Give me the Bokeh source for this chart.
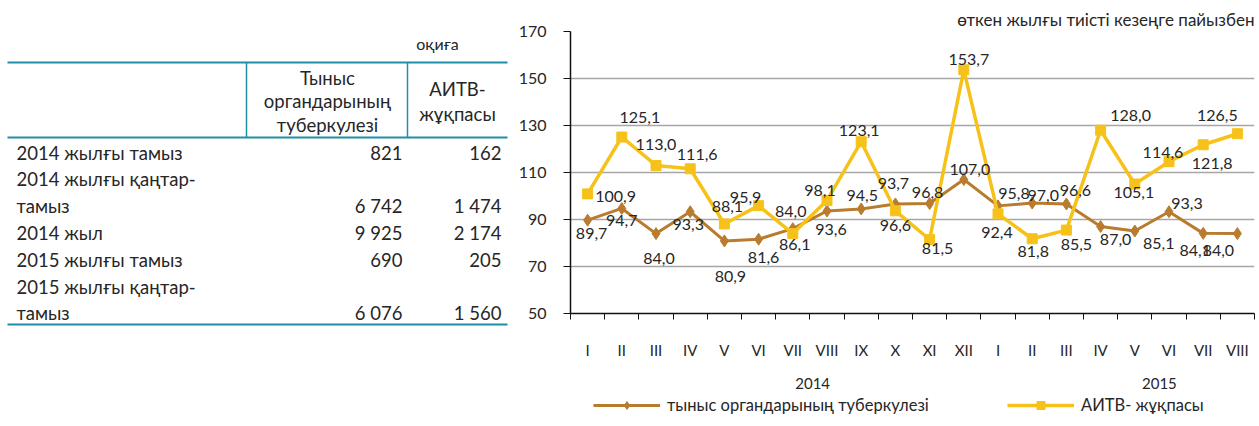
from bokeh.plotting import figure
from bokeh.models import (Range1d, FixedTicker, Legend, LegendItem, ColumnDataSource,
                          LinearAxis)
from bokeh.layouts import row, column
from bokeh.embed import file_html
from bokeh.resources import INLINE
from bokeh.core.properties import value

# ---------------- data ----------------
months = ["I", "II", "III", "IV", "V", "VI", "VII", "VIII", "IX", "X", "XI", "XII",
          "I", "II", "III", "IV", "V", "VI", "VII", "VIII"]
years = ["2014", "2015"]
tb = [89.7, 94.7, 84.0, 93.3, 80.9, 81.6, 86.1, 93.6, 94.5, 96.6, 96.8, 107.0,
      95.8, 97.0, 96.6, 87.0, 85.1, 93.3, 84.1, 84.0]
hiv = [100.9, 125.1, 113.0, 111.6, 88.1, 95.9, 84.0, 98.1, 123.1, 93.7, 81.5, 153.7,
       92.4, 81.8, 85.5, 128.0, 105.1, 114.6, 121.8, 126.5]
series_names = ["тыныс органдарының туберкулезі", "АИТВ- жұқпасы"]
chart_title = "өткен жылғы тиісті кезеңге пайызбен"
y_ticks = [50, 70, 90, 110, 130, 150, 170]

table_unit = "оқиға"
col_head_tb = ["Тыныс", "органдарының", "туберкулезі"]
col_head_hiv = ["АИТВ-", "жұқпасы"]
row_labels = [["2014 жылғы тамыз"], ["2014 жылғы қаңтар-", "тамыз"], ["2014 жыл"],
              ["2015 жылғы тамыз"], ["2015 жылғы қаңтар-", "тамыз"]]
tb_counts = [821, 6742, 9925, 690, 6076]
hiv_counts = [162, 1474, 2174, 205, 1560]

# ---------------- styles / positions ----------------
FONT = "Lato"
TXT = "#262626"
TEAL = "#1F8FA8"
BROWN = "#B97B2E"
YELLOW = "#F6C21A"
year_label_pos = [7.08, 17.22]
legend_pos = [(80, 11), (494, 11)]

# offsets (px) of the data labels relative to their points
tb_dx = [4, 0, 3, -2, 6, 5, 2, 4, 1, 0, -2, 6, 16, 11, 9, 15, 24, 18, -8, -19]
tb_dy = [13, 12, 25, 13, 36, 18, 16, 18, -13, 22, -11, -10, -12, -8, -13, 13, 12, -8, 17, 17]
hiv_dx = [28, 18, 0, 7, 3, -13, -2, -7, -2, -2, 8, 5, -1, 1, 10, 30, -1, -6, 9, -20]
hiv_dy = [3, -20, -21, -14, -17, -8, -22, -10, -11, -27, 9, -10, 19, 13, 14, -15, 8, -9, 19, -18]


def fmt_count(v):
    return f"{v:,}".replace(",", " ")


def fmt_pct(v):
    return f"{v:.1f}".replace(".", ",")


# ---------------- table (left) ----------------
t = figure(width=513, height=426, x_range=Range1d(0, 513), y_range=Range1d(426, 0),
           output_backend="svg", toolbar_location=None,
           x_axis_location=None, y_axis_location=None,
           min_border=0, min_border_left=0, min_border_right=0,
           min_border_top=0, min_border_bottom=0)
t.outline_line_color = None
t.grid.visible = False
t.frame_align = False

tkw = dict(text_font=value(FONT), text_color=TXT, text_baseline="middle")
FS = "18.5px"

t.text(x=[437], y=[43], text=[table_unit], text_align="center", text_font_size="16px", **tkw)
t.segment(x0=[7, 7, 7], y0=[62, 137, 324], x1=[507, 507, 507], y1=[62, 137, 324],
          line_color=TEAL, line_width=2)
t.segment(x0=[246, 407], y0=[62, 62], x1=[246, 407], y1=[137, 137],
          line_color=TEAL, line_width=1.5)
t.text(x=[327] * len(col_head_tb), y=[77 + 23.5 * i for i in range(len(col_head_tb))],
       text=col_head_tb, text_align="center", text_font_size=FS, **tkw)
t.text(x=[457] * len(col_head_hiv), y=[88 + 25 * i for i in range(len(col_head_hiv))],
       text=col_head_hiv, text_align="center", text_font_size=FS, **tkw)
lx, ly, vx1, vx2, vy = [], [], [], [], []
k = 0
for lines, a, b in zip(row_labels, tb_counts, hiv_counts):
    for ln in lines:
        lx.append(ln)
        ly.append(152 + 26.8 * k)
        k += 1
    vy.append(152 + 26.8 * (k - 1))
    vx1.append(fmt_count(a))
    vx2.append(fmt_count(b))
t.text(x=[16] * len(lx), y=ly, text=lx, text_align="left", text_font_size=FS, **tkw)
t.text(x=[402] * len(vx1), y=vy, text=vx1, text_align="right", text_font_size=FS, **tkw)
t.text(x=[501] * len(vx2), y=vy, text=vx2, text_align="right", text_font_size=FS, **tkw)

# ---------------- chart (right) ----------------
xs = [i + 0.5 for i in range(len(months))]
src = ColumnDataSource(dict(
    x=xs, tb=tb, hiv=hiv,
    tb_lab=[fmt_pct(v) for v in tb], hiv_lab=[fmt_pct(v) for v in hiv],
    tb_dx=tb_dx, tb_dy=tb_dy, hiv_dx=hiv_dx, hiv_dy=hiv_dy))

p = figure(width=746, height=394, x_range=Range1d(0, len(months)),
           y_range=Range1d(y_ticks[0], y_ticks[-1]), title=chart_title,
           output_backend="svg", toolbar_location=None,
           min_border_left=57, min_border_right=5, min_border_top=31, min_border_bottom=81)
p.frame_align = False
p.outline_line_color = None
p.title.align = "right"
p.title.text_font = FONT
p.title.text_font_size = "17px"
p.title.text_font_style = "normal"
p.title.text_color = TXT
p.title.standoff = 4

p.xgrid.visible = False
p.ygrid.ticker = FixedTicker(ticks=y_ticks[1:])
p.ygrid.grid_line_color = "#A6A6A6"
p.ygrid.grid_line_width = 1.5

p.yaxis.ticker = FixedTicker(ticks=y_ticks)
p.yaxis.axis_line_color = "#111111"
p.yaxis.axis_line_width = 1.5
p.yaxis.major_tick_line_color = "#111111"
p.yaxis.major_tick_out = 7
p.yaxis.major_tick_in = 0
p.yaxis.minor_tick_line_color = None
p.yaxis.major_label_standoff = 17
p.yaxis.major_label_text_font = FONT
p.yaxis.major_label_text_font_size = "16px"
p.yaxis.major_label_text_color = TXT

p.xaxis.ticker = FixedTicker(ticks=xs, minor_ticks=list(range(len(months) + 1)))
p.xaxis.major_label_overrides = {x: m for x, m in zip(xs, months)}
p.xaxis.axis_line_color = "#111111"
p.xaxis.axis_line_width = 1.5
p.xaxis.major_tick_out = 0
p.xaxis.major_tick_in = 0
p.xaxis.minor_tick_line_color = "#111111"
p.xaxis.minor_tick_out = 6
p.xaxis.minor_tick_in = 0
p.xaxis.major_label_standoff = 21
p.xaxis.major_label_text_font = FONT
p.xaxis.major_label_text_font_size = "15px"
p.xaxis.major_label_text_color = TXT

year_axis = LinearAxis(ticker=FixedTicker(ticks=year_label_pos),
                       major_label_overrides={x: y for x, y in zip(year_label_pos, years)},
                       axis_line_color=None, major_tick_line_color=None,
                       minor_tick_line_color=None, major_tick_out=0, major_tick_in=0,
                       major_label_standoff=16,
                       major_label_text_font=FONT, major_label_text_font_size="15px",
                       major_label_text_color=TXT)
p.add_layout(year_axis, "below")

p.line("x", "tb", source=src, line_color=BROWN, line_width=3)
p.scatter("x", "tb", source=src, marker="diamond", size=12, color=BROWN)
p.line("x", "hiv", source=src, line_color=YELLOW, line_width=3.5)
p.scatter("x", "hiv", source=src, marker="square", size=10, color=YELLOW)

lab_kw = dict(text_font=value(FONT), text_font_size="16px", text_color=TXT,
              text_align="center", text_baseline="middle")
p.text("x", "tb", text="tb_lab", x_offset="tb_dx", y_offset="tb_dy", source=src, **lab_kw)
p.text("x", "hiv", text="hiv_lab", x_offset="hiv_dx", y_offset="hiv_dy", source=src, **lab_kw)

# ---------------- legend strip ----------------
lf = figure(width=746, height=32, x_range=Range1d(0, 746), y_range=Range1d(0, 32),
            output_backend="svg", toolbar_location=None,
            x_axis_location=None, y_axis_location=None,
            min_border=0, min_border_left=0, min_border_right=0,
            min_border_top=0, min_border_bottom=0)
lf.outline_line_color = None
lf.grid.visible = False
lf.frame_align = False
# legend-only renderers (nothing plotted: NaN coordinates)
leg_src = ColumnDataSource(dict(x=[float("nan")], y=[float("nan")]))
styles = [(BROWN, "diamond", 12, 3), (YELLOW, "square", 10, 3.5)]
for name, (col, mk, sz, lw), loc in zip(series_names, styles, legend_pos):
    rl = lf.line("x", "y", source=leg_src, line_color=col, line_width=lw)
    rs = lf.scatter("x", "y", source=leg_src, marker=mk, size=sz, color=col)
    lg = Legend(items=[LegendItem(label=name, renderers=[rl, rs])], location=loc,
                orientation="horizontal", glyph_width=67, glyph_height=20,
                label_standoff=7, padding=0, margin=0, border_line_color=None,
                background_fill_alpha=0, label_text_font=FONT,
                label_text_font_size="16.5px", label_text_color=TXT, label_height=20)
    lf.add_layout(lg)

layout = row(t, column(p, lf, spacing=0), spacing=0)
open("out.html", "w").write(file_html(layout, INLINE))
